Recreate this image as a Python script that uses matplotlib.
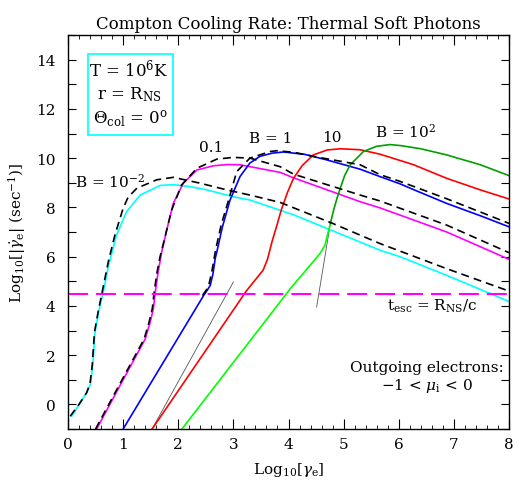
import matplotlib
matplotlib.use("Agg")
import matplotlib.pyplot as plt
from matplotlib.patches import Rectangle
from matplotlib.ticker import MultipleLocator, FixedFormatter, FixedLocator

plt.rcParams['font.family'] = ['DejaVu Serif']
plt.rcParams['mathtext.fontset'] = 'dejavuserif'

# Curves: log10(gamma_e) vs log10(|gamma_e dot|).
# B = 1e-2 (cyan) and its dashed companion.
cyan_x = [0.07, 0.2, 0.34, 0.41, 0.45, 0.49, 0.56, 0.64, 0.73, 0.88, 1.06, 1.31,
          1.67, 1.91, 2.2, 2.52, 3.0, 3.3, 3.85, 4.09, 4.8, 5.66, 6.03, 6.87, 7.66, 8.0]
cyan_y = [-0.48, 0.0, 0.48, 0.85, 1.6, 2.93, 3.8, 4.56, 5.58, 6.87, 7.82, 8.5,
          8.89, 8.92, 8.85, 8.71, 8.43, 8.3, 7.88, 7.7, 7.05, 6.26, 5.99, 5.24, 4.5, 4.18]
dash1_x = [0.04, 0.2, 0.34, 0.40, 0.44, 0.48, 0.55, 0.62, 0.73, 0.85, 1.0, 1.09, 1.25,
           1.61, 1.91, 2.4, 2.88, 3.3, 3.85, 4.8, 5.66, 6.87, 8.0]
dash1_y = [-0.48, 0.0, 0.48, 0.85, 1.6, 2.93, 3.8, 4.56, 5.78, 6.87, 7.96, 8.41, 8.78,
           9.12, 9.22, 8.98, 8.71, 8.5, 8.2, 7.35, 6.53, 5.51, 4.6]

# B = 0.1 (magenta) and dashed companion.
mag_x = [0.52, 0.94, 1.4, 1.49, 1.55, 1.58, 1.63, 1.70, 1.79, 1.91, 2.09, 2.34,
         2.64, 2.9, 3.12, 3.85, 4.09, 5.3, 5.66, 6.87, 8.0]
mag_y = [-1.0, 0.75, 2.65, 3.33, 3.9, 4.5, 5.3, 6.19, 7.07, 8.16, 8.98, 9.52,
         9.69, 9.74, 9.73, 9.42, 9.2, 8.23, 7.98, 7.0, 5.89]
dash2_x = [0.50, 0.92, 1.38, 1.47, 1.53, 1.56, 1.61, 1.67, 1.73, 1.88, 2.06, 2.34,
           2.70, 3.0, 3.3, 3.85, 4.09, 5.3, 5.66, 6.03, 6.87, 8.0]
dash2_y = [-1.0, 0.75, 2.65, 3.33, 3.9, 4.5, 5.3, 6.0, 6.53, 7.89, 8.91, 9.59,
           9.96, 10.03, 10.0, 9.65, 9.35, 8.5, 8.26, 7.96, 7.28, 6.16]

# B = 1 (blue) and dashed companion.
blue_x = [1.0, 2.46, 2.53, 2.58, 2.63, 2.67, 2.70, 2.8, 2.94, 3.12, 3.30, 3.48,
          3.7, 3.91, 4.3, 4.69, 5.3, 5.66, 6.03, 6.27, 6.87, 7.48, 8.0]
blue_y = [-1.0, 4.42, 4.65, 4.83, 5.3, 5.92, 6.19, 7.2, 8.3, 9.25, 9.8, 10.07,
          10.2, 10.25, 10.15, 9.93, 9.55, 9.25, 8.95, 8.72, 8.16, 7.66, 7.21]
dash3_x = [2.44, 2.51, 2.56, 2.61, 2.65, 2.68, 2.78, 2.92, 3.06, 3.3, 3.67, 3.79,
           4.09, 4.5, 5.3, 5.66, 6.03, 6.87, 7.72, 8.0]
dash3_y = [4.42, 4.65, 4.9, 5.4, 5.92, 6.3, 7.3, 8.35, 9.45, 10.0, 10.27, 10.3,
           10.24, 10.05, 9.73, 9.33, 9.05, 8.35, 7.6, 7.35]

# B = 10 (red).
red_x = [1.52, 3.24, 3.54, 3.62, 3.70, 3.79, 3.87, 3.98, 4.09, 4.25, 4.45, 4.7,
         4.94, 5.3, 5.66, 6.03, 6.27, 6.87, 7.48, 8.0]
red_y = [-1.02, 4.62, 5.45, 5.9, 6.6, 7.28, 7.9, 8.6, 9.18, 9.7, 10.13, 10.33,
         10.38, 10.34, 10.16, 9.9, 9.73, 9.18, 8.71, 8.34]

# B = 100: lower part drawn light green, upper part dark green.
grn_lo_x = [2.06, 4.03, 4.57, 4.66, 4.72, 4.76]
grn_lo_y = [-1.02, 4.69, 6.12, 6.46, 7.0, 7.35]
grn_hi_x = [4.76, 4.82, 4.88, 4.94, 5.02, 5.12, 5.36, 5.6, 5.84, 6.03, 6.4,
            6.87, 7.48, 8.0]
grn_hi_y = [7.35, 7.9, 8.37, 8.78, 9.3, 9.73, 10.27, 10.48, 10.55, 10.51, 10.38,
            10.13, 9.73, 9.29]

# thin guide lines
thin1_x = [1.52, 3.0]
thin1_y = [-1.02, 4.97]
thin2_x = [4.51, 4.76]
thin2_y = [3.95, 7.35]

# escape time level
t_esc = 4.5

fig = plt.figure(figsize=(5.26, 5.02), dpi=100)
ax = fig.add_axes([68 / 526, 1 - 430 / 502, 441 / 526, 394 / 502])

lw = 1.2
dash = (0, (4.8, 3.0))
ax.plot(thin1_x, thin1_y, color='#555555', lw=0.6)
ax.plot(thin2_x, thin2_y, color='#555555', lw=0.6)
ax.plot(cyan_x, cyan_y, color='#00ffff', lw=lw)
ax.plot(mag_x, mag_y, color='#ff00ff', lw=lw)
ax.plot(blue_x, blue_y, color='#0000ff', lw=lw)
ax.plot(red_x, red_y, color='#ff0000', lw=lw)
ax.plot(grn_lo_x, grn_lo_y, color='#00ff00', lw=lw)
ax.plot(grn_hi_x, grn_hi_y, color='#00a000', lw=lw)
ax.plot(dash1_x, dash1_y, color='black', lw=lw, linestyle=dash)
ax.plot(dash2_x, dash2_y, color='black', lw=lw, linestyle=dash)
ax.plot(dash3_x, dash3_y, color='black', lw=lw, linestyle=dash)
ax.axhline(t_esc, color='#ff00ff', lw=1.5, linestyle=(0, (9.6, 3.8)))

ax.set_xlim(0, 8)
ax.set_ylim(-1, 15)
ax.xaxis.set_major_locator(MultipleLocator(1))
ax.xaxis.set_minor_locator(MultipleLocator(0.2))
ax.yaxis.set_major_locator(FixedLocator(list(range(-1, 16))))
ylabels = [str(v) if v % 2 == 0 and v >= 0 else '' for v in range(-1, 16)]
ax.yaxis.set_major_formatter(FixedFormatter(ylabels))
ax.tick_params(which='both', direction='in', top=True, right=True, labelsize=11)
ax.tick_params(axis='x', which='major', length=7, pad=6)
ax.tick_params(axis='x', which='minor', length=3)
ax.tick_params(axis='y', which='major', length=6, pad=9)
for s in ax.spines.values():
    s.set_linewidth(1.0)

ax.set_title('Compton Cooling Rate: Thermal Soft Photons', fontsize=12, pad=5)
ax.set_xlabel(r'Log$_{10}$[$\gamma_{\rm e}$]', fontsize=11, labelpad=6)
ax.set_ylabel(r'Log$_{10}$[|$\dot{\gamma}_{\rm e}$| (sec$^{-1}$)]', fontsize=11, labelpad=6)

# parameter box
ax.add_patch(Rectangle((0.357, 10.93), 1.543, 3.3, fill=False, edgecolor='#00ffff', lw=1.2))
ax.text(1.10, 13.37, r'T = 10$^6$K', ha='center', va='baseline', fontsize=12)
ax.text(1.11, 12.42, r'r = R$_{\rm NS}$', ha='center', va='baseline', fontsize=12)
ax.text(1.13, 11.43, r'$\Theta_{\rm col}$ = 0$^{\rm o}$', ha='center', va='baseline', fontsize=12)

# curve labels
ax.text(0.13, 8.82, r'B = 10$^{-2}$', ha='left', va='baseline', fontsize=11)
ax.text(2.59, 10.29, '0.1', ha='center', va='baseline', fontsize=11)
ax.text(3.67, 10.65, 'B = 1', ha='center', va='baseline', fontsize=11)
ax.text(4.79, 10.69, '10', ha='center', va='baseline', fontsize=11)
ax.text(6.12, 10.86, r'B = 10$^2$', ha='center', va='baseline', fontsize=11)

ax.text(6.6, 3.85, r't$_{\rm esc}$ = R$_{\rm NS}$/c', ha='center', va='baseline', fontsize=11)
ax.text(6.51, 1.36, 'Outgoing electrons:', ha='center', va='baseline', fontsize=11)
ax.text(6.51, 0.62, r'$-1$ < $\mu_{\rm i}$ < 0', ha='center', va='baseline', fontsize=11)

fig.savefig('out.png', dpi=100)
